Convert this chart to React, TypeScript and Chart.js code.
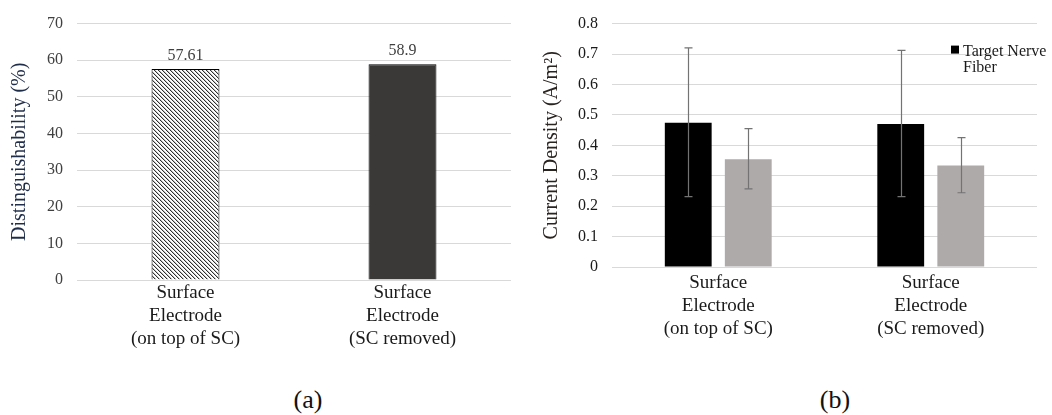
import React, { useEffect, useRef } from 'react';
import { Chart, registerables } from 'chart.js';

Chart.register(...registerables);

const SERIF = "'Liberation Serif', 'Times New Roman', serif";
Chart.defaults.font.family = SERIF;

// ---- data ----
const ELECTRODE_LABELS: string[][] = [
  ['Surface', 'Electrode', '(on top of SC)'],
  ['Surface', 'Electrode', '(SC removed)'],
];

// panel (a): distinguishability per electrode placement (%)
const DISTINGUISHABILITY = [57.61, 58.9];
const DIST_Y_MAX = 70;
const DIST_Y_STEP = 10;

// panel (b): current density (A/m^2), mean with error range
const TARGET_DENSITY = [0.474, 0.47];
const TARGET_LOW = [0.231, 0.231];
const TARGET_HIGH = [0.72, 0.712];
const OTHER_DENSITY = [0.354, 0.334];
const OTHER_LOW = [0.257, 0.244];
const OTHER_HIGH = [0.455, 0.425];
const DENSITY_Y_MAX = 0.8;
const DENSITY_Y_STEP = 0.1;

const LEGEND_LINES = ['Target Nerve', 'Fiber'];
const PANEL_CAPTIONS = ['(a)', '(b)'];

// ---- helpers ----
// downward diagonal hatch used for the first bar of panel (a)
function makeHatch(): CanvasPattern | string {
  const size = 4;
  const c = document.createElement('canvas');
  c.width = size;
  c.height = size;
  const ctx = c.getContext('2d');
  if (!ctx) return '#999';
  ctx.fillStyle = '#ffffff';
  ctx.fillRect(0, 0, size, size);
  for (let y = 0; y < size; y++) {
    ctx.fillStyle = '#303030';
    ctx.fillRect(y % size, y, 1, 1);
    ctx.fillStyle = '#c4c4c4';
    ctx.fillRect((y + 1) % size, y, 1, 1);
  }
  const p = ctx.createPattern(c, 'repeat');
  return p || '#999';
}

const valueLabelPlugin = {
  id: 'valueLabels',
  afterDatasetsDraw(chart: any) {
    const ctx = chart.ctx;
    ctx.save();
    ctx.font = `16px ${SERIF}`;
    ctx.fillStyle = '#404040';
    ctx.textAlign = 'center';
    ctx.textBaseline = 'alphabetic';
    chart.data.datasets.forEach((ds: any, di: number) => {
      const meta = chart.getDatasetMeta(di);
      meta.data.forEach((bar: any, i: number) => {
        ctx.fillText(String(ds.data[i]), bar.x, bar.y - 9);
      });
    });
    ctx.restore();
  },
};

const ERROR_RANGES = [
  [TARGET_LOW, TARGET_HIGH],
  [OTHER_LOW, OTHER_HIGH],
];

const errorBarPlugin = {
  id: 'errorBars',
  afterDatasetsDraw(chart: any) {
    const ctx = chart.ctx;
    const y = chart.scales.y;
    ctx.save();
    ctx.strokeStyle = '#737373';
    ctx.lineWidth = 1.2;
    chart.data.datasets.forEach((_ds: any, di: number) => {
      const [lows, highs] = ERROR_RANGES[di];
      const meta = chart.getDatasetMeta(di);
      meta.data.forEach((bar: any, i: number) => {
        const x = Math.round(bar.x) + 0.5;
        const yHi = y.getPixelForValue(highs[i]);
        const yLo = y.getPixelForValue(lows[i]);
        ctx.beginPath();
        ctx.moveTo(x, yHi);
        ctx.lineTo(x, yLo);
        ctx.moveTo(x - 4, yHi);
        ctx.lineTo(x + 4, yHi);
        ctx.moveTo(x - 4, yLo);
        ctx.lineTo(x + 4, yLo);
        ctx.stroke();
      });
    });
    ctx.restore();
  },
};

const wrappedLegendPlugin = {
  id: 'wrappedLegend',
  afterDraw(chart: any) {
    const ctx = chart.ctx;
    const area = chart.chartArea;
    const ds = chart.data.datasets[0];
    const left = area.right - 86;
    const top = area.top + 22;
    ctx.save();
    ctx.fillStyle = ds.backgroundColor;
    ctx.fillRect(left, top, 8, 8);
    ctx.font = `16px ${SERIF}`;
    ctx.fillStyle = '#1a1a1a';
    ctx.textAlign = 'left';
    ctx.textBaseline = 'alphabetic';
    LEGEND_LINES.forEach((line, i) => {
      ctx.fillText(line, left + 12, top + 10 + i * 16);
    });
    ctx.restore();
  },
};

function DistinguishabilityChart() {
  const ref = useRef<HTMLCanvasElement>(null);
  useEffect(() => {
    if (!ref.current) return;
    const chart = new Chart(ref.current, {
      type: 'bar',
      data: {
        labels: ELECTRODE_LABELS,
        datasets: [
          {
            label: 'Distinguishability',
            data: DISTINGUISHABILITY,
            backgroundColor: [makeHatch(), '#3b3838'] as any,
            borderColor: '#000000',
            borderWidth: 1,
            categoryPercentage: 1,
            barPercentage: 0.313,
          },
        ],
      },
      options: {
        responsive: false,
        animation: false,
        layout: { padding: { top: 19, right: 9, left: 0, bottom: 0 } },
        plugins: { legend: { display: false }, tooltip: { enabled: false } },
        scales: {
          x: {
            grid: { display: false, drawTicks: false },
            border: { display: false },
            ticks: { font: { family: SERIF, size: 19 }, color: '#1a1a1a', padding: 2 },
            afterFit: (s: any) => {
              s.height = 80;
            },
          },
          y: {
            min: 0,
            max: DIST_Y_MAX,
            ticks: {
              stepSize: DIST_Y_STEP,
              padding: 14,
              font: { family: SERIF, size: 16 },
              color: '#404040',
            },
            grid: { color: '#d9d9d9', lineWidth: 1, drawTicks: false },
            border: { display: false },
            title: {
              display: true,
              text: 'Distinguishability (%)',
              font: { family: SERIF, size: 20 },
              color: '#1f2d4a',
              padding: { top: 8, bottom: 0 },
            },
            afterFit: (s: any) => {
              s.width = 77;
            },
          },
        },
      },
      plugins: [valueLabelPlugin],
    });
    return () => chart.destroy();
  }, []);
  return (
    <canvas
      ref={ref}
      width={520}
      height={360}
      style={{ position: 'absolute', left: 0, top: 0, width: 520, height: 360 }}
    />
  );
}

function CurrentDensityChart() {
  const ref = useRef<HTMLCanvasElement>(null);
  useEffect(() => {
    if (!ref.current) return;
    const chart = new Chart(ref.current, {
      type: 'bar',
      data: {
        labels: ELECTRODE_LABELS,
        datasets: [
          {
            label: 'Target Nerve Fiber',
            data: TARGET_DENSITY,
            backgroundColor: '#000000',
            categoryPercentage: 0.565,
            barPercentage: 0.78,
          },
          {
            label: 'Non-target Nerve Fiber',
            data: OTHER_DENSITY,
            backgroundColor: '#aeaaaa',
            categoryPercentage: 0.565,
            barPercentage: 0.78,
          },
        ],
      },
      options: {
        responsive: false,
        animation: false,
        layout: { padding: { top: 19, right: 15, left: 0, bottom: 0 } },
        plugins: { legend: { display: false }, tooltip: { enabled: false } },
        scales: {
          x: {
            grid: { display: false, drawTicks: false },
            border: { display: false },
            ticks: { font: { family: SERIF, size: 19 }, color: '#1a1a1a', padding: 5 },
            afterFit: (s: any) => {
              s.height = 93;
            },
          },
          y: {
            min: 0,
            max: DENSITY_Y_MAX,
            ticks: {
              stepSize: DENSITY_Y_STEP,
              padding: 14,
              font: { family: SERIF, size: 16 },
              color: '#1a1a1a',
            },
            grid: { color: '#d9d9d9', lineWidth: 1, drawTicks: false },
            border: { display: false },
            title: {
              display: true,
              text: 'Current Density (A/m\u00B2)',
              font: { family: SERIF, size: 20 },
              color: '#2a2420',
              padding: { top: 10, bottom: 0 },
            },
            afterFit: (s: any) => {
              s.width = 82;
            },
          },
        },
      },
      plugins: [errorBarPlugin, wrappedLegendPlugin],
    });
    return () => chart.destroy();
  }, []);
  return (
    <canvas
      ref={ref}
      width={522}
      height={360}
      style={{ position: 'absolute', left: 530, top: 0, width: 522, height: 360 }}
    />
  );
}

export default function App() {
  const captionStyle = (center: number): React.CSSProperties => ({
    position: 'absolute',
    left: center - 50,
    top: 386,
    width: 100,
    textAlign: 'center',
    fontFamily: SERIF,
    fontSize: 26,
    lineHeight: '28px',
    color: '#111',
  });
  return (
    <div
      style={{
        position: 'fixed',
        left: 0,
        top: 0,
        width: 1052,
        height: 415,
        background: '#ffffff',
        overflow: 'hidden',
      }}
    >
      <DistinguishabilityChart />
      <CurrentDensityChart />
      <div style={captionStyle(308)}>{PANEL_CAPTIONS[0]}</div>
      <div style={captionStyle(835)}>{PANEL_CAPTIONS[1]}</div>
    </div>
  );
}
